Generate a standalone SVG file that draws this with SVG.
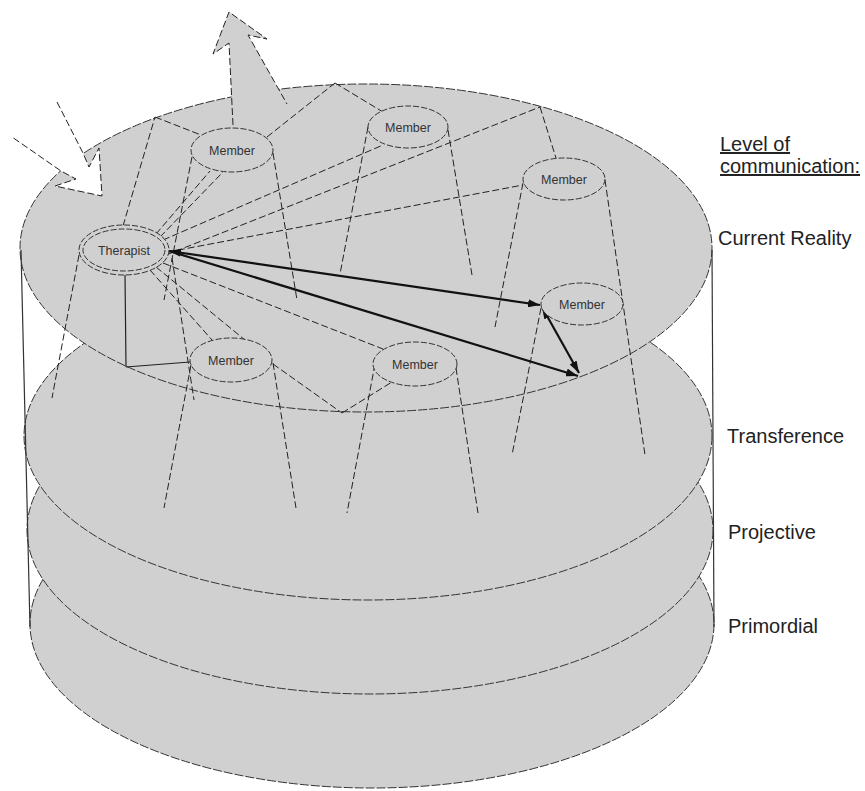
<svg xmlns="http://www.w3.org/2000/svg" width="865" height="791" viewBox="0 0 865 791">
<defs>
<style>
.layer{fill:#d0d0d0;stroke:#333;stroke-width:1;stroke-dasharray:9 2}
.side{stroke:#333;stroke-width:1.2;fill:none}
.dash{stroke:#222;stroke-width:1;fill:none;stroke-dasharray:7 3}
.solid{stroke:#222;stroke-width:1.2;fill:none}
.bold{stroke:#111;stroke-width:2.2;fill:none}
.node{fill:#d0d0d0;stroke:#333;stroke-width:1;stroke-dasharray:6 2}
.ntext{font-family:"Liberation Sans",Arial,sans-serif;font-size:12.5px;fill:#333;text-anchor:middle}
.label{font-family:"Liberation Sans",Arial,sans-serif;font-size:20px;fill:#222}
</style>
<marker id="ah" viewBox="0 0 12 8" refX="12" refY="4" markerWidth="12" markerHeight="8" markerUnits="userSpaceOnUse" orient="auto-start-reverse">
<path d="M0,0 L12,4 L0,8 z" fill="#111"/>
</marker>
</defs>
<rect width="865" height="791" fill="#fff"/>

<g id="layers">
<ellipse id="primordial" class="layer" cx="372" cy="624" rx="342" ry="164"/>
<ellipse id="projective" class="layer" cx="370" cy="530" rx="343" ry="164"/>
<ellipse id="transference" class="layer" cx="368" cy="436" rx="344" ry="164"/>
<ellipse id="current-reality" class="layer" cx="366" cy="248" rx="346" ry="164"/>
<line class="side" x1="21" y1="250" x2="30" y2="627"/>
<line class="side" x1="712" y1="250" x2="714" y2="627"/>
</g>

<g id="outgoing-arrow">
<polygon points="233,125 229,43 213,54 229,12 267,39 248,35 287,104" fill="#d0d0d0"/>
<polyline class="dash" points="233,125 229,43 213,54 229,12 267,39 248,35 287,104"/>
</g>
<g id="incoming-arrow">
<polygon points="57,102 83,153 89,167 99,148 102,196 55,186 76,179 61,171 12,137" fill="#fff"/>
<polyline class="dash" points="57,102 83,153 89,167 99,148 102,196 55,186 76,179 61,171 12,137"/>
</g>

<g id="connectors">
<line class="dash" x1="123" y1="226" x2="155" y2="117"/>
<line class="dash" x1="155" y1="117" x2="201" y2="135"/>
<line class="dash" x1="267" y1="137" x2="335" y2="83"/>
<line class="dash" x1="335" y1="83" x2="383" y2="112"/>
<line class="dash" x1="540" y1="107" x2="556" y2="158"/>
<line class="dash" x1="166" y1="255" x2="540" y2="107"/>
<line class="dash" x1="156" y1="234" x2="210" y2="171"/>
<line class="dash" x1="160" y1="237" x2="223" y2="172"/>
<line class="dash" x1="163" y1="240" x2="383" y2="145"/>
<line class="dash" x1="168" y1="252" x2="523" y2="185"/>
<line class="dash" x1="150" y1="270" x2="212" y2="340"/>
<line class="dash" x1="156" y1="267" x2="245" y2="340"/>
<line class="dash" x1="163" y1="263" x2="383" y2="349"/>
<line class="solid" x1="125" y1="274" x2="126" y2="367"/>
<line class="solid" x1="126" y1="367" x2="190" y2="362"/>
<line class="dash" x1="273" y1="364" x2="342" y2="413"/>
<line class="dash" x1="342" y1="413" x2="392" y2="382"/>
<line class="dash" x1="79" y1="255" x2="52" y2="398"/>
<line class="dash" x1="172" y1="258" x2="194" y2="400"/>
<line class="dash" x1="192" y1="157" x2="164" y2="300"/>
<line class="dash" x1="273" y1="153" x2="297" y2="300"/>
<line class="dash" x1="368" y1="127" x2="340" y2="274"/>
<line class="dash" x1="448" y1="130" x2="472" y2="275"/>
<line class="dash" x1="523" y1="183" x2="495" y2="327"/>
<line class="dash" x1="605" y1="180" x2="645" y2="455"/>
<line class="dash" x1="541" y1="308" x2="512" y2="455"/>
<line class="dash" x1="191" y1="365" x2="164" y2="508"/>
<line class="dash" x1="273" y1="363" x2="296" y2="508"/>
<line class="dash" x1="375" y1="364" x2="347" y2="513"/>
<line class="dash" x1="456" y1="368" x2="478" y2="513"/>
<line class="bold" x1="169" y1="251" x2="540" y2="305" marker-start="url(#ah)" marker-end="url(#ah)"/>
<line class="bold" x1="169" y1="251" x2="578" y2="376" marker-end="url(#ah)"/>
<line class="bold" x1="542" y1="307" x2="579" y2="373" marker-start="url(#ah)" marker-end="url(#ah)"/>
</g>

<g id="therapist">
<ellipse class="node" cx="124" cy="250" rx="45" ry="25"/>
<ellipse class="node" cx="124" cy="250" rx="41" ry="21"/>
<text class="ntext" x="124" y="254.5" font-size="13">Therapist</text>
</g>
<g id="member1">
<ellipse class="node" cx="232" cy="150" rx="41" ry="22"/>
<text class="ntext" x="232" y="154.5">Member</text>
</g>
<g id="member2">
<ellipse class="node" cx="408" cy="127" rx="40" ry="21"/>
<text class="ntext" x="408" y="131.5">Member</text>
</g>
<g id="member3">
<ellipse class="node" cx="564" cy="179" rx="41" ry="21"/>
<text class="ntext" x="564" y="183.5">Member</text>
</g>
<g id="member4">
<ellipse class="node" cx="582" cy="304" rx="41" ry="21"/>
<text class="ntext" x="582" y="308.5">Member</text>
</g>
<g id="member5">
<ellipse class="node" cx="231" cy="360" rx="41" ry="22"/>
<text class="ntext" x="231" y="364.5">Member</text>
</g>
<g id="member6">
<ellipse class="node" cx="415" cy="364" rx="42" ry="22"/>
<text class="ntext" x="415" y="368.5">Member</text>
</g>

<g id="labels">
<text class="label" x="720" y="151" text-decoration="underline">Level of</text>
<text class="label" x="720" y="173" text-decoration="underline">communication:</text>
<text class="label" x="718" y="245">Current Reality</text>
<text class="label" x="727" y="443">Transference</text>
<text class="label" x="728" y="539">Projective</text>
<text class="label" x="728" y="633">Primordial</text>
</g>
</svg>
